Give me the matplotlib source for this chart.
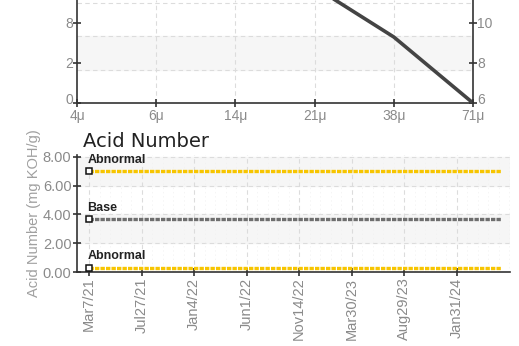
import matplotlib
matplotlib.use("Agg")
import matplotlib.pyplot as plt
import matplotlib.transforms as mtransforms
import numpy as np

plt.rcParams['font.family'] = ['Liberation Sans', 'DejaVu Sans']

# top panel (cropped): particle sizes vs count
size_labels = ["4μ", "6μ", "14μ", "21μ", "38μ", "71μ"]
size_counts = [np.nan, np.nan, np.nan, 11.8, 9.3, 6.0]
right_ticks = [6, 8, 10]
left_tick_labels = ["0", "2", "8"]

# bottom panel: acid number
date_labels = ["Mar7/21", "Jul27/21", "Jan4/22", "Jun1/22",
               "Nov14/22", "Mar30/23", "Aug29/23", "Jan31/24"]
line_start, line_end = 0.0, 7.85
abnormal_high = 7.0
base_value = 3.65
abnormal_low = 0.3
acid_ticks = [0, 2, 4, 6, 8]

DARK = "#333333"
TICK = "#8a8a8a"
GRID = "#dcdcdc"
BAND = "#f6f6f6"
YELLOW = "#f7c500"

fig = plt.figure(figsize=(5.19, 3.46), dpi=100)
lift = mtransforms.ScaledTranslation(0, 3 / 72, fig.dpi_scale_trans)

# ---------- top panel ----------
ax1 = fig.add_axes([77/519, 1 - 103/346, 396/519, 103/346])
ax1.set_xlim(0, len(size_labels) - 1)
ax1.set_ylim(0, 5.15)
ax1.set_yticks([0, 2, 4])
ax1.set_yticklabels(left_tick_labels)
ax1.set_xticks(range(len(size_labels)))
ax1.set_xticklabels(size_labels)
for s in ["top", "right"]:
    ax1.spines[s].set_visible(False)
for s in ["left", "bottom"]:
    ax1.spines[s].set_color(DARK)
    ax1.spines[s].set_linewidth(1.2)
ax1.tick_params(direction="inout", length=6, width=1.2, color=DARK,
                labelcolor=TICK, labelsize=10, pad=1)
ax1.tick_params(axis="y", pad=0)
ax1.axhspan(1.65, 3.35, color=BAND, zorder=0)
for y in [1.65, 3.35, 5.0]:
    ax1.axhline(y, color=GRID, lw=0.8, ls=(0, (4, 3)), zorder=1)
for x in range(1, len(size_labels) - 1):
    ax1.axvline(x, color=GRID, lw=0.8, ls=(0, (4, 3)), zorder=1)

ax1r = ax1.twinx()
ax1r.set_ylim(6, 11.15)
ax1r.set_yticks(right_ticks)
ax1r.plot(range(len(size_labels)), size_counts, color="#444444", lw=2.6,
          solid_capstyle="round", clip_on=True)
for s in ["top", "left", "bottom"]:
    ax1r.spines[s].set_visible(False)
ax1r.spines["right"].set_color(DARK)
ax1r.spines["right"].set_linewidth(1.2)
ax1r.tick_params(direction="inout", length=6, width=1.2, color=DARK,
                 labelcolor=TICK, labelsize=10, pad=0)

fig.canvas.draw()
for lab in [ax1.get_yticklabels()[0], ax1r.get_yticklabels()[0]]:
    lab.set_transform(lab.get_transform() + lift)

# ---------- bottom panel ----------
x0 = -12 / 52.5
x1 = (510 - 89) / 52.5
ax2 = fig.add_axes([77/519, 1 - 272/346, 433/519, 117/346])
ax2.set_xlim(x0, x1)
ax2.set_ylim(0, 8.12)
ax2.set_yticks(acid_ticks)
ax2.set_yticklabels([f"{v:.2f}" for v in acid_ticks])
ax2.set_xticks(range(len(date_labels)))
ax2.set_xticklabels(date_labels, rotation=90)
ax2.set_xticks(np.arange(0, x1, 0.2), minor=True)
for s in ["top", "right"]:
    ax2.spines[s].set_visible(False)
for s in ["left", "bottom"]:
    ax2.spines[s].set_color(DARK)
    ax2.spines[s].set_linewidth(1.2)
ax2.tick_params(which="major", direction="inout", length=6, width=1.2,
                color=DARK, labelcolor=TICK, labelsize=10.5, pad=1)
ax2.tick_params(which="minor", length=0)
ax2.set_title("Acid Number", loc="left", fontsize=14, color="#222222",
              family=["DejaVu Sans"], x=0.015, pad=6)
ax2.set_ylabel("Acid Number (mg KOH/g)", color="#a0a0a0", fontsize=10.5,
               labelpad=1)
for lo, hi in [(2, 4), (6, 8)]:
    ax2.axhspan(lo, hi, color=BAND, zorder=0)
for y in acid_ticks[1:]:
    ax2.axhline(y, color=GRID, lw=0.8, ls=(0, (4, 3)), zorder=1)
ax2.grid(which="major", axis="x", color=GRID, lw=0.8, ls=(0, (4, 3)), zorder=1)
ax2.grid(which="minor", axis="x", color="#f1f1f1", lw=0.5, ls=(0, (2, 4)), zorder=1)

xs = [line_start, line_end]
for val, col, name in [(abnormal_high, YELLOW, "Abnormal"),
                       (base_value, "#6e6e6e", "Base"),
                       (abnormal_low, YELLOW, "Abnormal")]:
    ax2.plot(xs, [val, val], color=col, lw=2.4, ls=(0, (1.3, 0.35)), zorder=3,
             solid_capstyle="butt", dash_capstyle="butt")
    ax2.plot([line_start], [val], marker="s", ms=4.5, mfc="white",
             mec="#111111", mew=1.1, ls="none", zorder=4, clip_on=False)
    ax2.annotate(name, (line_start, val), xytext=(-1, 4),
                 textcoords="offset points", fontsize=9, fontweight="bold",
                 color="#222222", va="bottom", ha="left")

fig.savefig("out.png", dpi=100)
